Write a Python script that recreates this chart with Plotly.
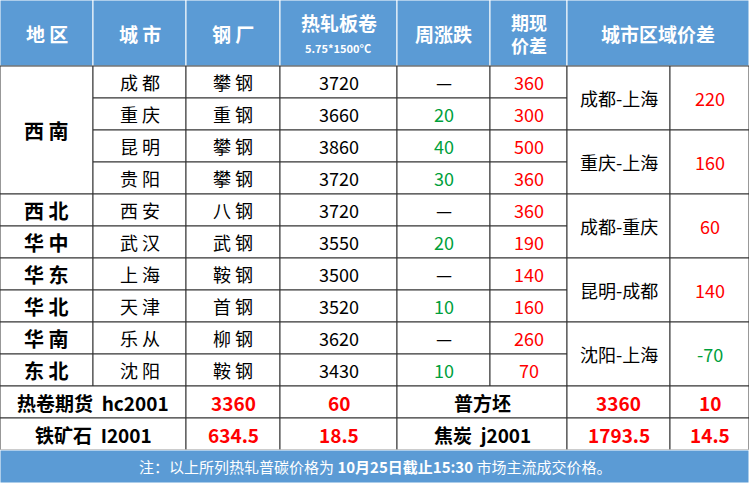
import plotly.graph_objects as go

# table data
headers = ["地 区", "城 市", "钢 厂", "热轧板卷", "周涨跌", "期现<br>价差", "城市区域价差"]
regions = ["西 南", "西 北", "华 中", "华 东", "华 北", "华 南", "东 北"]
region_spans = [4, 1, 1, 1, 1, 1, 1]
cities = ["成 都", "重 庆", "昆 明", "贵 阳", "西 安", "武 汉", "上 海", "天 津", "乐 从", "沈 阳"]
mills = ["攀 钢", "重 钢", "攀 钢", "攀 钢", "八 钢", "武 钢", "鞍 钢", "首 钢", "柳 钢", "鞍 钢"]
prices = [3720, 3660, 3860, 3720, 3720, 3550, 3500, 3520, 3620, 3430]
weekly = ["—", "20", "40", "30", "—", "20", "—", "10", "—", "10"]
basis = [360, 300, 500, 360, 360, 190, 140, 160, 260, 70]
spread_names = ["成都-上海", "重庆-上海", "成都-重庆", "昆明-成都", "沈阳-上海"]
spread_values = [220, 160, 60, 140, -70]
futures = [
    ["热卷期货  hc2001", "3360", "60", "普方坯", "3360", "10"],
    ["铁矿石  I2001", "634.5", "18.5", "焦炭  j2001", "1793.5", "14.5"],
]
note = "注：以上所列热轧普碳价格为 <b>10月25日截止15:30</b> 市场主流成交价格。"

W, H = 749, 483
cols = [0, 93, 186, 280, 397, 490, 567, 670, 749]
head_h, row_h, top = 66, 32, 66
blue = "#5b9bd5"
line = "#333333"
font = "Noto Sans CJK SC"
red, green = "#ff0000", "#00a03c"

shapes, ann = [], []


def cell(x0, x1, y0, y1, text, color="black", size=18, bold=False, fill="white"):
    shapes.append(dict(type="rect", x0=x0, x1=x1, y0=y0, y1=y1, fillcolor=fill,
                       line=dict(color=line if fill == "white" else "#ffffff", width=1)))
    t = f"<b>{text}</b>" if bold else text
    ann.append(dict(x=(x0 + x1) / 2, y=(y0 + y1) / 2, text=t, showarrow=False,
                    font=dict(family=font, size=size, color=color)))


# header
hx = [0, 93, 186, 280, 397, 490, 567, 749]
for i, h in enumerate(headers):
    cell(hx[i], hx[i + 1], 0, head_h, h, "white", 19, True, blue)
ann[5]["font"]["size"] = 18
ann[3]["y"] = 22
ann.append(dict(x=338, y=48, text="<b>5.75*1500°C</b>", showarrow=False,
                font=dict(family=font, size=11, color="white")))

# region column
r = 0
for name, span in zip(regions, region_spans):
    cell(cols[0], cols[1], top + r * row_h, top + (r + span) * row_h, name, size=20, bold=True)
    r += span

for i in range(len(cities)):
    y0, y1 = top + i * row_h, top + (i + 1) * row_h
    cell(cols[1], cols[2], y0, y1, cities[i])
    cell(cols[2], cols[3], y0, y1, mills[i])
    cell(cols[3], cols[4], y0, y1, str(prices[i]))
    cell(cols[4], cols[5], y0, y1, weekly[i], "black" if weekly[i] == "—" else green)
    cell(cols[5], cols[6], y0, y1, str(basis[i]), red)

for i, (n, v) in enumerate(zip(spread_names, spread_values)):
    y0, y1 = top + 2 * i * row_h, top + 2 * (i + 1) * row_h
    cell(cols[6], cols[7], y0, y1, n)
    cell(cols[7], cols[8], y0, y1, str(v), green if v < 0 else red)

fx = [0, 186, 280, 397, 567, 670, 749]
base = top + len(cities) * row_h
for j, row in enumerate(futures):
    y0, y1 = base + j * row_h, base + (j + 1) * row_h
    for k, t in enumerate(row):
        cell(fx[k], fx[k + 1], y0, y1, t, "black" if k in (0, 3) else red, 19, True)

fy = base + len(futures) * row_h
cell(0, W, fy, H, note, "white", 15, False, blue)

fig = go.Figure()
fig.update_layout(
    width=W, height=H, margin=dict(l=0, r=0, t=0, b=0),
    plot_bgcolor="white", paper_bgcolor="white",
    xaxis=dict(range=[0, W], visible=False, fixedrange=True),
    yaxis=dict(range=[H, 0], visible=False, fixedrange=True),
    shapes=shapes, annotations=ann, showlegend=False,
)
fig.write_html("out.html", config={"displayModeBar": False},
               post_script="document.body.style.margin='0';document.body.style.overflow='hidden';")
